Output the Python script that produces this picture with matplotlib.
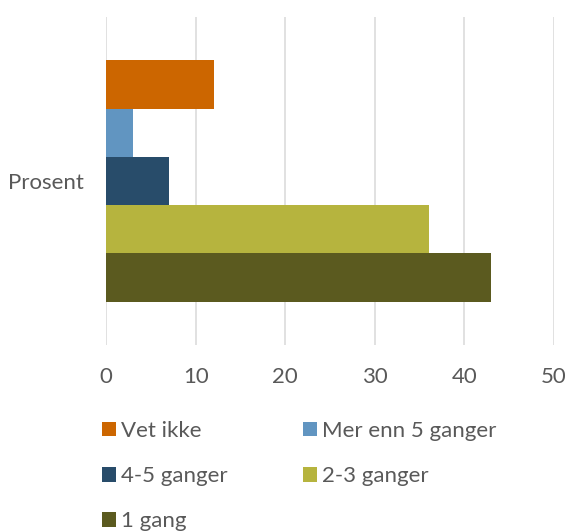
import matplotlib.pyplot as plt
from matplotlib.patches import Patch

# data
category = "Prosent"
series = ["Vet ikke", "Mer enn 5 ganger", "4-5 ganger", "2-3 ganger", "1 gang"]
values = [12, 3, 7, 36, 43]
colors = ["#CC6600", "#6195C1", "#284C6A", "#B6B43E", "#5B5A1F"]
xticks = [0, 10, 20, 30, 40, 50]

plt.rcParams["font.family"] = ["Lato", "DejaVu Sans"]
text_color = "#595959"

fig = plt.figure(figsize=(5.67, 5.31), dpi=100)
ax = fig.add_axes([106 / 567, 1 - 345 / 531, 448 / 567, 328 / 531])

h = 0.147
n = len(series)
for i, (name, v, c) in enumerate(zip(series, values, colors)):
    ax.barh((n // 2 - i) * h, v, height=h, color=c, label=name, zorder=3)

ax.set_xlim(0, 50)
ax.set_ylim(-0.5, 0.5)
ax.set_xticks(xticks)
ax.set_xticklabels([str(t) for t in xticks], fontsize=16, color=text_color)
ax.set_yticks([0])
ax.set_yticklabels([category], fontsize=16, color=text_color)
ax.tick_params(axis="both", length=0)
ax.tick_params(axis="x", pad=15.5)
ax.tick_params(axis="y", pad=16)

ax.grid(axis="x", color="#D9D9D9", linewidth=1.1, zorder=0)
for s in ax.spines.values():
    s.set_visible(False)

# legend laid out row-wise like the original
order = [0, 2, 4, 1, 3]
handles = [Patch(facecolor=colors[i], edgecolor="none") for i in order]
labels = [series[i] for i in order]
leg = fig.legend(handles, labels, loc="upper left",
                 bbox_to_anchor=(102 / 567, 1 - 421 / 531),
                 ncol=2, frameon=False, fontsize=16,
                 handlelength=0.63, handleheight=0.63, handletextpad=0.22,
                 columnspacing=3.4, labelspacing=1.13,
                 borderpad=0, borderaxespad=0)
for t in leg.get_texts():
    t.set_color(text_color)

fig.savefig("out.png", dpi=100)
